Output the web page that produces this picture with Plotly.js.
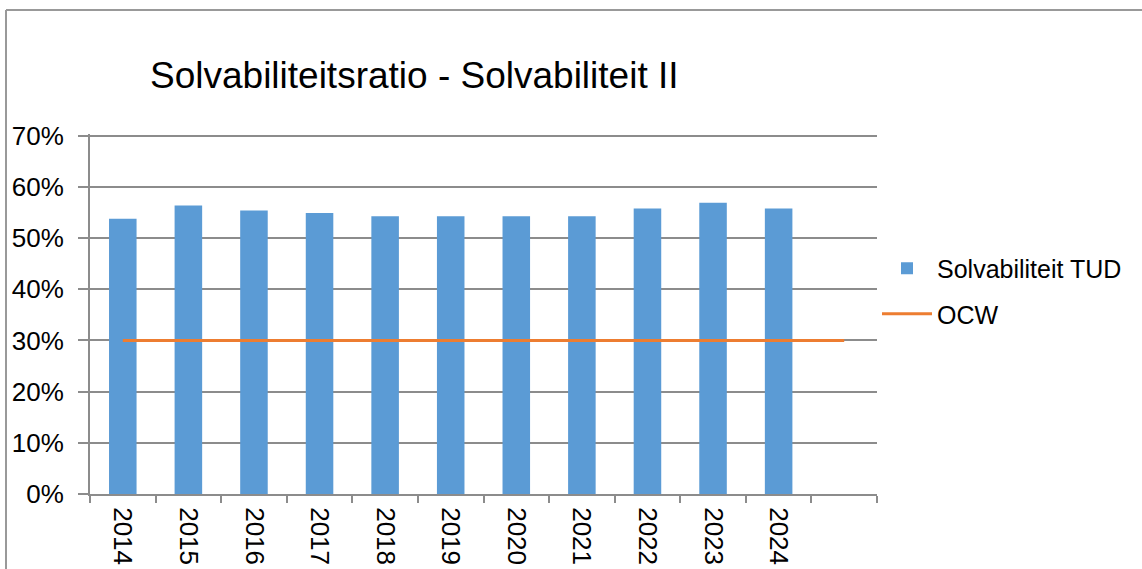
<!DOCTYPE html>
<html>
<head>
<meta charset="utf-8">
<script src="https://cdn.plot.ly/plotly-3.0.1.min.js"></script>
<style>html,body{margin:0;padding:0;background:#fff;}#chart{width:1142px;height:569px;}</style>
</head>
<body>
<div id="chart"></div>
<script>
const categories = ["2014","2015","2016","2017","2018","2019","2020","2021","2022","2023","2024"," "];
const solvabiliteitTUD = [0.538,0.564,0.554,0.549,0.543,0.543,0.543,0.543,0.558,0.569,0.558,null];
const ocw = [0.30,0.30,0.30,0.30,0.30,0.30,0.30,0.30,0.30,0.30,0.30,0.30];
const yTickVals = [0,0.1,0.2,0.3,0.4,0.5,0.6,0.7];
const yTickText = ["0%","10%","20%","30%","40%","50%","60%","70%"];

const font = "Liberation Sans, Arial, sans-serif";
const traces = [
  {type:"bar", name:"Solvabiliteit TUD", x:categories, y:solvabiliteitTUD, legendgroup:"a",
   marker:{color:"#5B9BD5"}, hoverinfo:"none"},
  {type:"scatter", mode:"lines", name:"OCW", x:categories, y:ocw, legendgroup:"b",
   line:{color:"#ED7D31", width:3}, hoverinfo:"none"}
];
const layout = {
  width:1142, height:569,
  margin:{l:90, r:265, t:134, b:75},
  paper_bgcolor:"#fff", plot_bgcolor:"#fff",
  font:{family:font, size:26, color:"#000"},
  title:{text:"Solvabiliteitsratio - Solvabiliteit II", font:{family:font, size:37, color:"#000"},
    xref:"container", yref:"container", x:150/1142, xanchor:"left", y:1-75/569, yanchor:"middle"},
  bargap:0.58,
  showlegend:true,
  legend:{x:1.0, xanchor:"left", y:0.69, yanchor:"top", font:{family:font, size:25, color:"#000"},
    itemwidth:50, traceorder:"grouped", tracegroupgap:10, bgcolor:"rgba(0,0,0,0)"},
  xaxis:{type:"category", categoryarray:categories, tickangle:90, showgrid:false,
    showline:true, linecolor:"#8c8c8c", linewidth:2, ticks:"outside", tickson:"boundaries",
    ticklen:7, tickcolor:"#8c8c8c", tickwidth:2, ticklabelstandoff:6,
    tickfont:{family:font, size:26, color:"#000"}, range:[-0.5,11.5], fixedrange:true},
  yaxis:{range:[0,0.7035], tickvals:yTickVals, ticktext:yTickText, showgrid:true, gridcolor:"#8c8c8c",
    gridwidth:2, showline:true, linecolor:"#8c8c8c", linewidth:2, ticks:"outside", ticklen:10,
    tickcolor:"#8c8c8c", tickwidth:2, zeroline:false, ticklabelstandoff:9,
    tickfont:{family:font, size:26, color:"#000"}, fixedrange:true},
  shapes:[
    {type:"line", xref:"paper", yref:"paper", x0:(6-90)/787, x1:1.4, y0:(494-10)/360, y1:(494-10)/360,
     line:{color:"#999", width:2}},
    {type:"line", xref:"paper", yref:"paper", x0:(6-90)/787, x1:(6-90)/787, y0:(494-10)/360, y1:-0.3,
     line:{color:"#999", width:2}}
  ]
};
Plotly.newPlot("chart", traces, layout, {displayModeBar:false, staticPlot:true});
</script>
</body>
</html>
